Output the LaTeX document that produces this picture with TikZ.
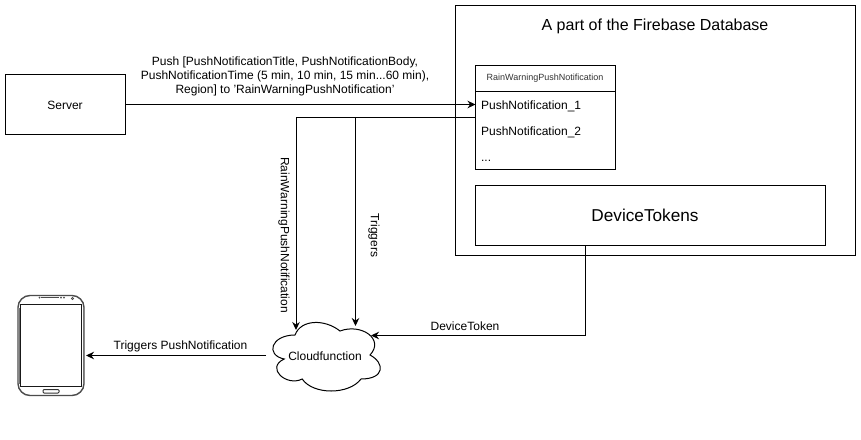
\documentclass[tikz,border=0pt]{standalone}
\usepackage{fontspec}
\setmainfont{Liberation Sans}
\usetikzlibrary{arrows.meta}
\newcommand{\fs}[1]{\fontsize{#1}{#1}\selectfont}
\tikzset{
  x=1pt,y=-1pt,
  every path/.style={line width=1pt},
  box/.style={draw=black,fill=white,rectangle,minimum width=#1,inner sep=0pt,outer sep=0pt,anchor=north west},
  lbl/.style={inner sep=0pt,text=black,font=\fs{12}},
  conn/.style={draw=black,-{Stealth[length=8pt,width=7.5pt]}},
  line/.style={draw=black}
}
\begin{document}
\begin{tikzpicture}
\useasboundingbox[fill=white] (0,0) rectangle (861,439);
% database frame
\node[box=400pt,minimum height=250pt] (db) at (455.5,5.5) {};
\node[lbl,font=\fs{16}] (dbt) at (655,26.7) {A part of the Firebase Database};
% server
\node[box=120pt,minimum height=60pt] (server) at (5.5,74.5) {};
\node[lbl] (servert) at (65,105) {Server};
% table
\node[box=140pt,minimum height=104pt] (tab) at (475.5,65.5) {};
\coordinate (rowline) at (475.5,91.5);
\draw[line] (rowline) -- (615.5,91.5);
\node[lbl,font=\fs{9},text=black!80] (tabt) at (545,78.5) {RainWarningPushNotification};
\node[lbl,anchor=base west] (r1) at (480.6,109) {PushNotification\_1};
\node[lbl,anchor=base west] (r2) at (480.6,135) {PushNotification\_2};
\node[lbl,anchor=base west] (r3) at (480.6,161) {...};
\coordinate (r1w) at (475.5,104.5);
\coordinate (r1b) at (475.5,117.5);
% device tokens
\node[box=350pt,minimum height=60pt] (dev) at (475.5,185.5) {};
\node[lbl,font=\fs{17.2}] (devt) at (645,215.5) {DeviceTokens};
% cloud
\begin{scope}[shift={(265,315)},x=120pt,y=-80pt]
\draw[fill=white] (.25,.25) .. controls (.05,.25) and (0,.5) .. (.16,.55)
 .. controls (0,.66) and (.18,.9) .. (.31,.8)
 .. controls (.4,1) and (.7,1) .. (.8,.8)
 .. controls (1,.8) and (1,.6) .. (.875,.5)
 .. controls (1,.3) and (.8,.1) .. (.625,.2)
 .. controls (.5,.05) and (.3,.05) .. (.25,.25) -- cycle;
\end{scope}
\node[lbl] (cloud) at (325,356) {Cloudfunction};
\coordinate (cloudA) at (296,330);
\coordinate (cloudB) at (355.5,326);
\coordinate (cloudC) at (371,335.5);
\coordinate (cloudW) at (266,355.5);
% phone
\node[inner sep=0pt,minimum width=0pt] (phone) at (51,346) {};
\draw[draw=black!70,line width=1.4pt,rounded corners=12pt] (18,295.5) rectangle (84,395.5);
\draw[draw=black!55,line width=1pt] (83,308) -- (83,384);
\draw[draw=black!55,line width=1pt] (19,308) -- (19,384);
\draw[draw=black!90,line width=1pt,fill=white] (20.7,304.3) rectangle (81.5,386.3);
\draw[draw=black!80,line width=1pt,rounded corners=1pt] (43,389.5) rectangle (59,393);
\draw[draw=black!70,line width=1.2pt] (41,297.5) -- (59,297.5);
\fill[black!70] (39.5,297.5) circle (1pt) (61,297.5) circle (1pt) (64,297.5) circle (1pt);
\draw[draw=black!70,line width=.7pt] (72.5,298.5) circle (1.2pt);
\coordinate (phoneE) at (86,355.5);
% connectors
\draw[conn] (server.east |- r1w) -- (r1w);
\draw[conn] (r1b) -- (296,117.5) -- (cloudA);
\draw[conn] (355.5,117.5) -- (cloudB);
\draw[conn] (dev.south -| 585.5,0) -- (585.5,335.5) -- (cloudC);
\draw[conn] (cloudW) -- (phoneE);
% labels
\node[lbl,font=\fontsize{12}{14}\selectfont,align=center] (pushl) at (285,76.3) {Push [PushNotificationTitle, PushNotificationBody,\\PushNotificationTime (5 min, 10 min, 15 min...60 min),\\Region] to \symbol{39}RainWarningPushNotification\symbol{39}};
\node[lbl,rotate=-90] (rwl) at (284,235) {RainWarningPushNotification};
\node[lbl,rotate=-90] (trl) at (374,235.5) {Triggers};
\node[lbl] (dtl) at (465,326) {DeviceToken};
\node[lbl] (tpl) at (180.5,346.5) {Triggers PushNotification};
\end{tikzpicture}
\end{document}
